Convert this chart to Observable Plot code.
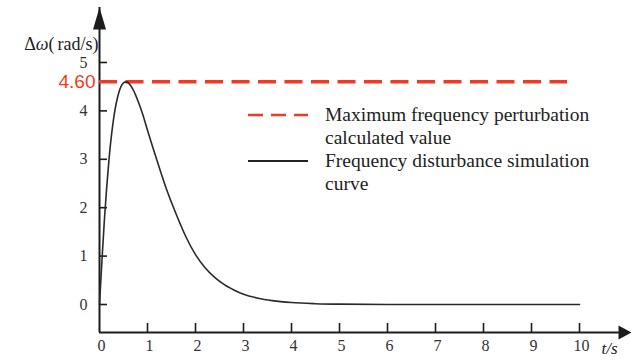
<!DOCTYPE html>
<html>
<head>
<meta charset="utf-8">
<script src="https://cdn.jsdelivr.net/npm/d3@7"></script>
<script src="https://cdn.jsdelivr.net/npm/@observablehq/plot@0.6"></script>
<style>
  html, body { margin: 0; padding: 0; background: #fff; }
  #wrap { position: relative; width: 631px; height: 360px; }
  .leg { position: absolute; font-family: "Liberation Serif", "Times New Roman", serif; font-size: 19.5px; color: #222; line-height: 23px; white-space: nowrap; }
  .sw { position: absolute; }
</style>
</head>
<body>
<div id="wrap"></div>
<script>
// ---- data ----
const timeS = [0, 0.05, 0.1, 0.15, 0.2, 0.3, 0.4, 0.5, 0.55, 0.6, 0.7, 0.8, 0.9, 1.0, 1.2, 1.4, 1.6, 1.8, 2.0, 2.2, 2.4, 2.6, 2.8, 3.0, 3.3, 3.6, 4.0, 4.5, 5, 6, 7, 8, 9, 10];
const deltaOmega = [0, 0.89, 1.72, 2.42, 3.02, 3.88, 4.37, 4.58, 4.6, 4.58, 4.44, 4.21, 3.93, 3.6, 2.97, 2.37, 1.86, 1.4, 1.03, 0.76, 0.56, 0.41, 0.3, 0.21, 0.13, 0.08, 0.04, 0.017, 0.007, 0.001, 0, 0, 0, 0];
const maxValue = [4.60];
const maxLineSpan = [0, 9.75];
const xTickLabels = [0, 1, 2, 3, 4, 5, 6, 7, 8, 9, 10];
const xTickMarks = [1, 2, 3, 4, 5, 6, 7, 8, 9, 10];
const yTickLabels = [0, 1, 2, 3, 4, 5];
const yTitle = "Δω(rad/s)";
const xTitle = "t/s";

// ---- layout ----
const W = 631, H = 360;
const mL = 99, mR = 4, mT = 7, mB = 28;
const xDomain = [0, 11];
const yDomain = [-0.5785, 6.136];
const pxPerX = (W - mL - mR) / (xDomain[1] - xDomain[0]);
const pxPerY = (H - mT - mB) / (yDomain[1] - yDomain[0]);
const RED = "#f23a22";
const AX = "#1c1c1c";
const SERIF = "Liberation Serif, Times New Roman, serif";

const arrowUp = { draw(ctx) { ctx.moveTo(0, 0); ctx.lineTo(-6.5, 22); ctx.lineTo(6.5, 22); ctx.closePath(); } };
const arrowRight = { draw(ctx) { ctx.moveTo(0, 0); ctx.lineTo(-13, -7); ctx.lineTo(-13, 7); ctx.closePath(); } };

const curve = timeS.map((t, i) => ({ t, v: deltaOmega[i] }));

const plot = Plot.plot({
  width: W, height: H,
  marginLeft: mL, marginRight: mR, marginTop: mT, marginBottom: mB,
  x: { domain: xDomain },
  y: { domain: yDomain },
  style: { fontFamily: SERIF, background: "#fff" },
  marks: [
    Plot.ruleX([xDomain[0]], { stroke: AX, strokeWidth: 2 }),
    Plot.ruleY([yDomain[0]], { stroke: AX, strokeWidth: 2 }),
    Plot.ruleY(yTickLabels, { y: d => d, x1: xDomain[0], x2: xDomain[0] + 8 / pxPerX, stroke: AX, strokeWidth: 1.6 }),
    Plot.ruleX(xTickMarks, { x: d => d, y1: yDomain[0], y2: yDomain[0] + 9 / pxPerY, stroke: AX, strokeWidth: 1.6 }),
    Plot.axisX({ ticks: xTickLabels, tickSize: 0, tickPadding: 7, fontSize: 16, fill: "#333", label: null, tickFormat: d => String(d), dx: 2 }),
    Plot.axisY({ ticks: yTickLabels, tickSize: 0, tickPadding: 12, fontSize: 16, fill: "#333", label: null, tickFormat: d => String(d) }),
    Plot.dot([0], { frameAnchor: "top-left", symbol: arrowUp, r: 5, fill: AX, stroke: "none" }),
    Plot.dot([0], { frameAnchor: "bottom-right", symbol: arrowRight, r: 5, fill: AX, stroke: "none", dx: 4 }),
    Plot.ruleY(maxValue, { y: d => d, x1: maxLineSpan[0], x2: maxLineSpan[1], stroke: RED, strokeWidth: 3.5, strokeDasharray: "18,8.5" }),
    Plot.text(maxValue, { x: xDomain[0], y: d => d, text: d => d.toFixed(2), textAnchor: "end", dx: -4, fill: RED, fontSize: 19, fontFamily: "Liberation Sans, Arial, sans-serif" }),
    Plot.line(curve, { x: "t", y: "v", stroke: "#2a2a2a", strokeWidth: 1.6, curve: "monotone-x" }),
    Plot.text([yTitle], { frameAnchor: "top-left", textAnchor: "end", dx: -1, dy: 30, fontSize: 18, fill: "#222" }),
    Plot.text([xTitle], { frameAnchor: "bottom-right", textAnchor: "end", dx: -10, dy: 21, fontSize: 17, fontStyle: "italic", fill: "#222" })
  ]
});

d3.select(plot).selectAll("text").filter(function () { return this.textContent === yTitle; }).each(function () {
  const el = d3.select(this);
  el.text("");
  el.append("tspan").text("Δ");
  el.append("tspan").attr("font-style", "italic").text("ω");
  el.append("tspan").text("(");
  el.append("tspan").attr("dx", 3).text("rad/s)");
});

const wrap = document.getElementById("wrap");
wrap.appendChild(plot);

function addSwatch(y, color, dash, width) {
  const ns = "http://www.w3.org/2000/svg";
  const s = document.createElementNS(ns, "svg");
  s.setAttribute("class", "sw");
  s.setAttribute("width", 62); s.setAttribute("height", 10);
  s.style.left = "247px"; s.style.top = (y - 5) + "px";
  const l = document.createElementNS(ns, "line");
  l.setAttribute("x1", 1); l.setAttribute("x2", 61); l.setAttribute("y1", 5); l.setAttribute("y2", 5);
  l.setAttribute("stroke", color); l.setAttribute("stroke-width", width);
  if (dash) l.setAttribute("stroke-dasharray", dash);
  s.appendChild(l);
  wrap.appendChild(s);
}
function addLabel(y, html) {
  const d = document.createElement("div");
  d.className = "leg";
  d.style.left = "325px"; d.style.top = (y - 12) + "px";
  d.innerHTML = html;
  wrap.appendChild(d);
}
addSwatch(115, RED, "15,8", 2.6);
addLabel(115, "Maximum frequency perturbation<br>calculated value");
addSwatch(161, "#222", null, 2);
addLabel(161, "Frequency disturbance simulation<br>curve");
</script>
</body>
</html>
